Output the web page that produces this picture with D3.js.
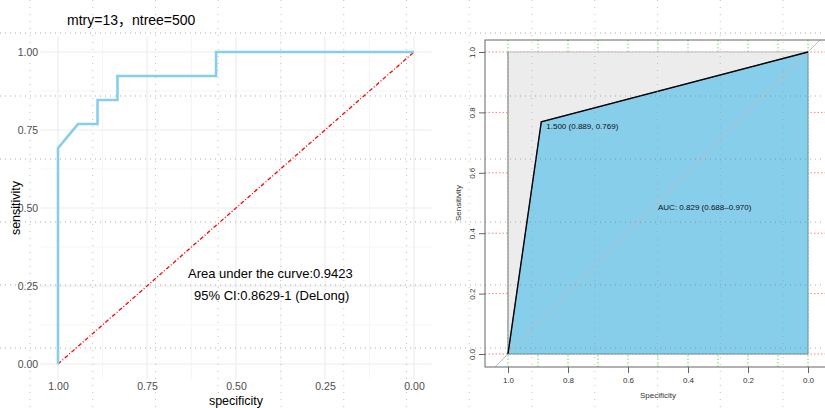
<!DOCTYPE html>
<html><head><meta charset="utf-8">
<script src="https://cdn.jsdelivr.net/npm/d3@7"></script>
<style>
html,body{margin:0;padding:0;background:#fff;}
svg{display:block;font-family:"Liberation Sans",Arial,sans-serif;}
</style></head>
<body>
<svg id="c" width="825" height="408"></svg>
<script>
// ---------- data ----------
const chartTitle = "mtry=13，ntree=500";
const leftSpecificity = [1, 1, 0.944, 0.889, 0.889, 0.833, 0.833, 0.556, 0.556, 0];
const leftSensitivity = [0, 0.692, 0.769, 0.769, 0.846, 0.846, 0.923, 0.923, 1, 1];
const leftTicks = [1, 0.75, 0.5, 0.25, 0];
const leftMinorTicks = [0.875, 0.625, 0.375, 0.125];
const aucText = "Area under the curve:0.9423";
const ciText = "95% CI:0.8629-1 (DeLong)";

const rightSpecificity = [1, 0.889, 0];
const rightSensitivity = [0, 0.769, 1];
const rightTicks = [1, 0.8, 0.6, 0.4, 0.2, 0];
const rightGreenGrid = [1, 0.9, 0.8, 0.7, 0.6, 0.5, 0.4, 0.3, 0.2, 0.1, 0];
const thresholdLabel = "1.500 (0.889, 0.769)";
const rightAucLabel = "AUC: 0.829 (0.688–0.970)";

const svg = d3.select("#c");

// ---------- left panel (ggplot style) ----------
const lx = d3.scaleLinear().domain([1.05, -0.05]).range([40.2, 431.8]);
const ly = d3.scaleLinear().domain([-0.05, 1.05]).range([379.6, 36.4]);
const L = svg.append("g");

L.selectAll(".vminor").data(leftMinorTicks).join("line")
  .attr("x1", d => lx(d)).attr("x2", d => lx(d)).attr("y1", ly(-0.05)).attr("y2", ly(1.05))
  .attr("stroke", "#f0f0f0").attr("stroke-width", 0.6);
L.selectAll(".hminor").data(leftMinorTicks).join("line")
  .attr("y1", d => ly(d)).attr("y2", d => ly(d)).attr("x1", lx(1.05)).attr("x2", lx(-0.05))
  .attr("stroke", "#f0f0f0").attr("stroke-width", 0.6);
L.selectAll(".vmajor").data(leftTicks).join("line")
  .attr("x1", d => lx(d)).attr("x2", d => lx(d)).attr("y1", ly(-0.05)).attr("y2", ly(1.05))
  .attr("stroke", "#ebebeb").attr("stroke-width", 1.1);
L.selectAll(".hmajor").data(leftTicks).join("line")
  .attr("y1", d => ly(d)).attr("y2", d => ly(d)).attr("x1", lx(1.05)).attr("x2", lx(-0.05))
  .attr("stroke", "#ebebeb").attr("stroke-width", 1.1);

const lxAxis = L.append("g").attr("transform", `translate(0,${ly(-0.05)})`)
  .call(d3.axisBottom(lx).tickValues(leftTicks).tickFormat(d3.format(".2f")).tickSize(0).tickPadding(3));
lxAxis.select(".domain").remove();
lxAxis.selectAll("text").attr("fill", "#4d4d4d").style("font-size", "10.5px").style("font-family", "Liberation Sans, Arial");
const lyAxis = L.append("g").attr("transform", `translate(${lx(1.05)},0)`)
  .call(d3.axisLeft(ly).tickValues(leftTicks).tickFormat(d3.format(".2f")).tickSize(0).tickPadding(2));
lyAxis.select(".domain").remove();
lyAxis.selectAll("text").attr("fill", "#4d4d4d").style("font-size", "10.5px").style("font-family", "Liberation Sans, Arial");

L.append("text").attr("x", lx(0.5)).attr("y", 405).attr("text-anchor", "middle")
  .style("font-size", "12.5px").attr("fill", "#000").text("specificity");
L.append("text").attr("transform", `translate(20,${ly(0.5)}) rotate(-90)`).attr("text-anchor", "middle")
  .style("font-size", "12.5px").attr("fill", "#000").text("sensitivity");
L.append("text").attr("x", 67).attr("y", 25)
  .style("font-size", "14px").style("font-family", "'Liberation Sans', 'Noto Sans CJK SC', Arial").attr("fill", "#000").text(chartTitle);

L.append("line").attr("x1", lx(1)).attr("y1", ly(0)).attr("x2", lx(0)).attr("y2", ly(1))
  .attr("stroke", "#ff0000").attr("stroke-width", 1.3).attr("stroke-dasharray", "4,2,1,2");
L.append("path").datum(d3.range(leftSpecificity.length))
  .attr("d", d3.line().x(i => lx(leftSpecificity[i])).y(i => ly(leftSensitivity[i])))
  .attr("fill", "none").attr("stroke", "#87CEEB").attr("stroke-width", 2.6);

L.append("text").attr("x", 188).attr("y", 278).style("font-size", "13px").attr("fill", "#000").text(aucText);
L.append("text").attr("x", 194).attr("y", 300).style("font-size", "13px").attr("fill", "#000").text(ciText);

// ---------- right panel (pROC base style) ----------
const rx = d3.scaleLinear().domain([1, 0]).range([508, 808]);
const ry = d3.scaleLinear().domain([0, 1]).range([354, 52]);
const box = {x0: 485, x1: 831, y0: 40, y1: 367};
const R = svg.append("g");
svg.append("defs").append("clipPath").attr("id", "boxclip").append("rect")
  .attr("x", box.x0).attr("y", box.y0).attr("width", box.x1 - box.x0).attr("height", box.y1 - box.y0);
const RC = R.append("g").attr("clip-path", "url(#boxclip)");

RC.selectAll(".gg").data(rightGreenGrid).join("line")
  .attr("x1", d => rx(d)).attr("x2", d => rx(d)).attr("y1", box.y0).attr("y2", box.y1)
  .attr("stroke", "#5fe35f").attr("stroke-width", 1).attr("stroke-dasharray", "1.5,2");
RC.selectAll(".rg").data(rightTicks).join("line")
  .attr("y1", d => ry(d)).attr("y2", d => ry(d)).attr("x1", box.x0).attr("x2", box.x1)
  .attr("stroke", "#ff8080").attr("stroke-width", 1).attr("stroke-dasharray", "1.5,2");

RC.append("path").attr("d", d3.line()([[rx(1), ry(0)], [rx(1), ry(1)], [rx(0), ry(1)], [rx(0), ry(0)]]) + "Z")
  .attr("fill", "#ececec").attr("stroke", "none");
RC.append("line").attr("x1", rx(1)).attr("x2", rx(0)).attr("y1", ry(1)).attr("y2", ry(1))
  .attr("stroke", "#bdbdbd").attr("stroke-width", 1);
RC.append("line").attr("x1", rx(1)).attr("x2", rx(1)).attr("y1", ry(0)).attr("y2", ry(1))
  .attr("stroke", "#777").attr("stroke-width", 1);
const aucPts = rightSpecificity.map((s, i) => [rx(s), ry(rightSensitivity[i])]).concat([[rx(0), ry(0)]]);
RC.append("path").attr("d", d3.line()(aucPts) + "Z")
  .attr("fill", "#87CEEB").attr("stroke", "#5e7f8c").attr("stroke-width", 0.8);
RC.append("line").attr("x1", rx(1.05)).attr("y1", ry(-0.05)).attr("x2", rx(-0.05)).attr("y2", ry(1.05))
  .attr("stroke", "#bdbdbd").attr("stroke-width", 1);
RC.append("path").datum(d3.range(rightSpecificity.length))
  .attr("d", d3.line().x(i => rx(rightSpecificity[i])).y(i => ry(rightSensitivity[i])))
  .attr("fill", "none").attr("stroke", "#000").attr("stroke-width", 1.4);

RC.append("text").attr("x", rx(0.889) + 5).attr("y", ry(0.769) + 7)
  .style("font-size", "8px").attr("fill", "#111").text(thresholdLabel);
RC.append("text").attr("x", 658).attr("y", 210)
  .style("font-size", "8px").attr("fill", "#111").text(rightAucLabel);

R.append("rect").attr("x", box.x0).attr("y", box.y0).attr("width", box.x1 - box.x0).attr("height", box.y1 - box.y0)
  .attr("fill", "none").attr("stroke", "#666").attr("stroke-width", 1);

const rxAxis = R.append("g").attr("transform", `translate(0,${box.y1})`)
  .call(d3.axisBottom(rx).tickValues(rightTicks).tickFormat(d3.format(".1f")).tickSize(6).tickPadding(4));
rxAxis.select(".domain").remove();
rxAxis.selectAll("line").attr("stroke", "#666");
rxAxis.selectAll("text").attr("fill", "#333").style("font-size", "8px").style("font-family", "Liberation Sans, Arial");
const ryAxis = R.append("g").attr("transform", `translate(${box.x0},0)`)
  .call(d3.axisLeft(ry).tickValues(rightTicks).tickFormat(d3.format(".1f")).tickSize(6).tickPadding(4));
ryAxis.select(".domain").remove();
ryAxis.selectAll("line").attr("stroke", "#666");
ryAxis.selectAll("text").attr("fill", "#333").style("font-size", "8px").style("font-family", "Liberation Sans, Arial")
  .attr("text-anchor", "middle").attr("x", 0).attr("y", 0).attr("dy", "0.35em")
  .attr("transform", "translate(-13,0) rotate(-90)");

R.append("text").attr("x", 658).attr("y", 398).attr("text-anchor", "middle")
  .style("font-size", "8px").attr("fill", "#333").text("Specificity");
R.append("text").attr("transform", `translate(461,${ry(0.5)}) rotate(-90)`).attr("text-anchor", "middle")
  .style("font-size", "8px").attr("fill", "#333").text("Sensitivity");

// ---------- dotted lattice overlay ----------
const latticeX = d3.range(13).map(i => 30 + i * 62.75);
const latticeY = d3.range(6).map(i => 33 + i * 63);
const O = svg.append("g");
O.selectAll(".lv").data(latticeX).join("line")
  .attr("x1", d => d).attr("x2", d => d).attr("y1", 0).attr("y2", 408)
  .attr("stroke", "#999").attr("stroke-width", 1).attr("stroke-dasharray", "1,6").attr("opacity", 0.6);
O.selectAll(".lh").data(latticeY).join("line")
  .attr("y1", d => d).attr("y2", d => d).attr("x1", 0).attr("x2", 825)
  .attr("stroke", "#777").attr("stroke-width", 1).attr("stroke-dasharray", "1,4").attr("opacity", 0.6);
</script>
</body></html>
